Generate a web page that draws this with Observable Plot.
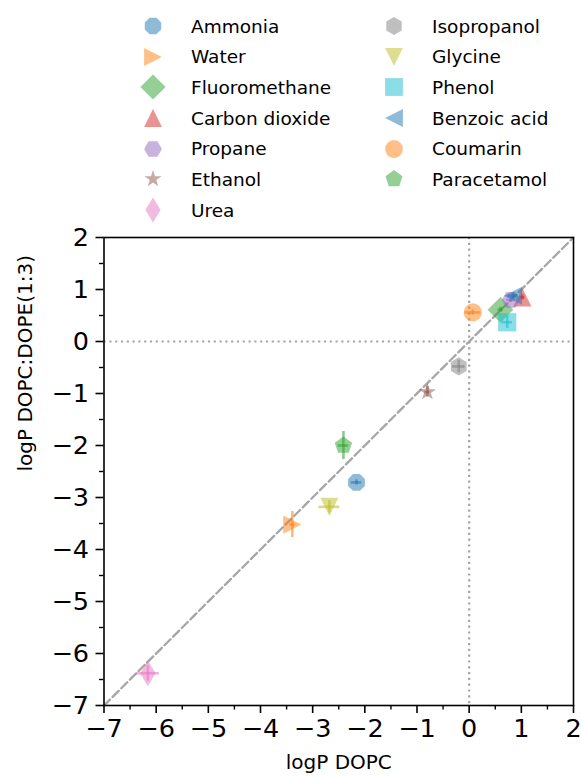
<!DOCTYPE html>
<html><head><meta charset="utf-8">
<script src="https://cdn.jsdelivr.net/npm/d3@7"></script>
<script src="https://cdn.jsdelivr.net/npm/@observablehq/plot@0.6"></script>
<style>
body{margin:0;background:#fff;}
#wrap{position:relative;width:581px;height:778px;overflow:hidden;font-family:"DejaVu Sans",sans-serif;color:#000;}
#legend{position:relative;height:222px;}
.item{position:absolute;height:30px;display:flex;align-items:center;font-size:18.5px;white-space:nowrap;}
.item span{margin-left:23px;}
</style></head><body>
<div id="wrap"><div id="legend"></div><div id="chart"></div></div>
<script>
// ---- data ----
const compounds = ["Ammonia","Water","Fluoromethane","Carbon dioxide","Propane","Ethanol","Urea",
                   "Isopropanol","Glycine","Phenol","Benzoic acid","Coumarin","Paracetamol"];
const logP_DOPC = [-2.16,-3.39,0.60,1.02,0.80,-0.80,-6.16,-0.20,-2.68,0.73,0.84,0.07,-2.41];
const logP_mix  = [-2.71,-3.52,0.61,0.85,0.80,-0.97,-6.38,-0.48,-3.18,0.37,0.88,0.56,-2.00];
const err_DOPC  = [0.10,0.05,0.05,0.05,0.08,0.05,0.22,0.12,0.20,0.10,0.10,0.15,0.10];
const err_mix   = [0.05,0.25,0.05,0.05,0.05,0.10,0.15,0.12,0.12,0.12,0.05,0.05,0.27];
const colors = ["#1f77b4","#ff7f0e","#2ca02c","#d62728","#9467bd","#8c564b","#e377c2",
                "#7f7f7f","#bcbd22","#17becf","#1f77b4","#ff7f0e","#2ca02c"];
const markers = ["octagon","triangleRight","diamond","triangleUp","hexagonFlat","star","thinDiamond",
                 "hexagonPointy","triangleDown","square","triangleLeft","circle","pentagon"];
const majorTicks = [-7,-6,-5,-4,-3,-2,-1,0,1,2];
const minorTicks = [-6.5,-5.5,-4.5,-3.5,-2.5,-1.5,-0.5,0.5,1.5];
const diagonal = [-7, 2];
const xLabel = "logP DOPC";
const yLabel = "logP DOPC:DOPE(1:3)";

// ---- marker shapes (matplotlib-like) ----
function poly(pts){return {draw(ctx,size){const R=Math.sqrt(size/Math.PI);
  pts.forEach(([a,b],i)=>i?ctx.lineTo(a*R,b*R):ctx.moveTo(a*R,b*R)); ctx.closePath();}};}
function regular(n,rotDeg){const p=[];for(let i=0;i<n;i++){const a=-Math.PI/2+2*Math.PI*i/n+rotDeg*Math.PI/180;p.push([Math.cos(a),Math.sin(a)]);}return poly(p);}
function star(){const p=[];for(let i=0;i<10;i++){const a=-Math.PI/2+Math.PI*i/5;const r=i%2?0.381966:1;p.push([r*Math.cos(a),r*Math.sin(a)]);}return poly(p);}
const shapes = {
  circle:{draw(ctx,size){const R=Math.sqrt(size/Math.PI);ctx.moveTo(R,0);ctx.arc(0,0,R,0,2*Math.PI);}},
  octagon:regular(8,22.5),
  triangleRight:poly([[1,0],[-1,-1],[-1,1]]),
  triangleLeft:poly([[-1,0],[1,-1],[1,1]]),
  triangleUp:poly([[0,-1],[1,1],[-1,1]]),
  triangleDown:poly([[0,1],[1,-1],[-1,-1]]),
  diamond:poly([[0,-1.414],[1.414,0],[0,1.414],[-1.414,0]]),
  thinDiamond:poly([[0,-1.414],[0.85,0],[0,1.414],[-0.85,0]]),
  square:poly([[-1,-1],[1,-1],[1,1],[-1,1]]),
  hexagonFlat:regular(6,30),
  hexagonPointy:regular(6,0),
  pentagon:regular(5,0),
  star:star()
};
const R = 9.1;

// ---- legend ----
const legend = document.getElementById("legend");
compounds.forEach((name,i)=>{
  const col = i<7?0:1, row = i<7?i:i-7;
  const mx = col?394:153, my = 26+30.67*row;
  const div = document.createElement("div");
  div.className="item"; div.style.left=(mx-15)+"px"; div.style.top=(my-15)+"px";
  const path = d3.symbol(shapes[markers[i]], Math.PI*8.9*8.9)();
  div.innerHTML = `<svg width="30" height="30"><path transform="translate(15,15)" d="${path}" fill="${colors[i]}" fill-opacity="0.5"/></svg><span>${name}</span>`;
  legend.appendChild(div);
});

// ---- chart ----
const idx = d3.range(compounds.length);
const fmt = d => d<0 ? "\u2212"+Math.abs(d) : String(d);
const marks = [
  Plot.line(diagonal.map(v=>[v,v]), {stroke:"#a6a6a6", strokeWidth:2.3, strokeDasharray:"8.5,3.7"}),
  Plot.ruleX([0], {stroke:"#a6a6a6", strokeWidth:2.2, strokeDasharray:"2.2,3.6"}),
  Plot.ruleY([0], {stroke:"#a6a6a6", strokeWidth:2.2, strokeDasharray:"2.2,3.6"})
];
idx.forEach(i=>{
  marks.push(Plot.dot([i], {x:d=>logP_DOPC[d], y:d=>logP_mix[d], r:R, symbol:shapes[markers[i]],
    fill:colors[i], fillOpacity:0.5, stroke:"none"}));
  marks.push(Plot.ruleY([i], {y:d=>logP_mix[d], x1:d=>logP_DOPC[d]-err_DOPC[d], x2:d=>logP_DOPC[d]+err_DOPC[d],
    stroke:colors[i], strokeOpacity:0.55, strokeWidth:2.6}));
  marks.push(Plot.ruleX([i], {x:d=>logP_DOPC[d], y1:d=>logP_mix[d]-err_mix[d], y2:d=>logP_mix[d]+err_mix[d],
    stroke:colors[i], strokeOpacity:0.55, strokeWidth:2.6}));
});
marks.push(
  Plot.frame({stroke:"#000", strokeWidth:1.6}),
  Plot.axisX({ticks:majorTicks, tickSize:8, tickPadding:5, tickFormat:fmt, fontSize:25.5, strokeWidth:1.6, label:null}),
  Plot.axisX({ticks:minorTicks, tickSize:4.5, tickFormat:()=>"", strokeWidth:1.4, label:null}),
  Plot.axisY({ticks:majorTicks, tickSize:8, tickPadding:7, tickFormat:fmt, fontSize:25.5, strokeWidth:1.6, label:null}),
  Plot.axisY({ticks:minorTicks, tickSize:4.5, tickFormat:()=>"", strokeWidth:1.4, label:null}),
  Plot.text([xLabel], {frameAnchor:"bottom", dy:63, fontSize:20, fill:"#000"}),
  Plot.text([yLabel], {frameAnchor:"left", dx:-78, rotate:-90, fontSize:20, fill:"#000"})
);
const chart = Plot.plot({
  width:581, height:556,
  marginTop:15, marginBottom:73, marginLeft:103.5, marginRight:8,
  x:{domain:[-7,2], label:null},
  y:{domain:[-7,2], label:null},
  style:{fontFamily:"DejaVu Sans", background:"#fff", color:"#000", overflow:"visible"},
  marks
});
document.getElementById("chart").appendChild(chart);
</script>
</body></html>
